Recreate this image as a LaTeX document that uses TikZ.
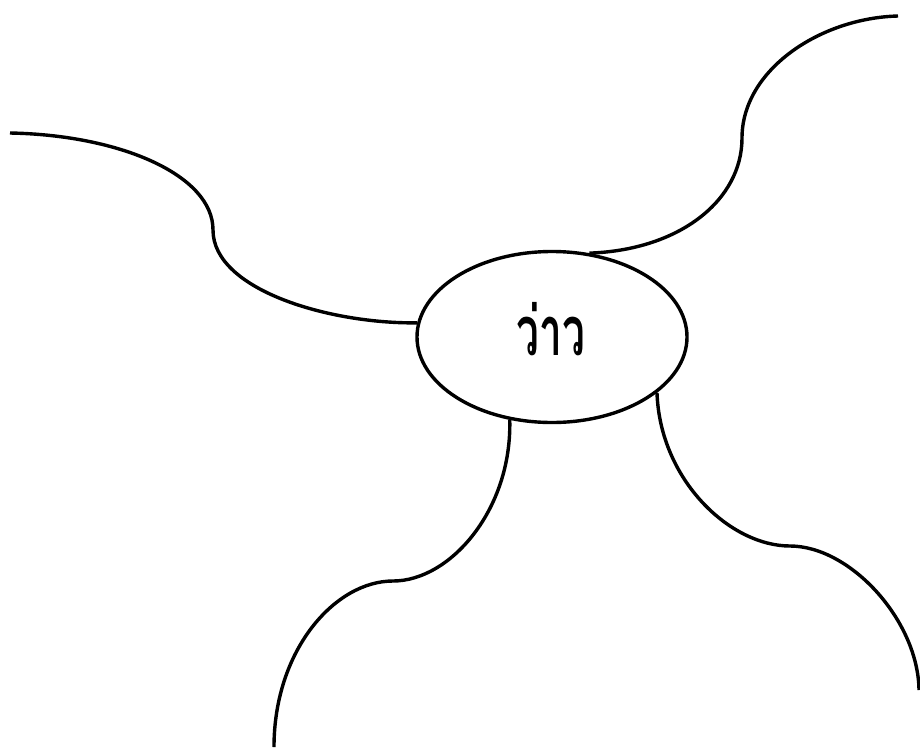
\documentclass[tikz,border=0pt]{standalone}
\usepackage{fontspec}
\newfontfamily\thaifont[Script=Thai]{Loma}
\usetikzlibrary{shapes.geometric}
\tikzset{
  kitebox/.style={draw=black, line width=3.4pt, ellipse, minimum width=270pt, minimum height=171pt, inner sep=0pt},
  kitetext/.style={inner sep=0pt, font=\thaifont\bfseries\fontsize{58}{62}\selectfont},
  branch/.style={draw=black, line width=3.4pt}
}
\begin{document}
\begin{tikzpicture}[x=1pt,y=-1pt]
\useasboundingbox (0,0) rectangle (920,747);
\node[kitebox] (kite) at (552,337) {};
\node[kitetext] (label) at (551,329) {\scalebox{0.7}[1.18]{ว่าว}};
\coordinate (e1) at (898,16);
\coordinate (m1) at (742,138);
\coordinate (e2) at (10,133);
\coordinate (m2) at (213,230);
\coordinate (e3) at (274,747);
\coordinate (m3) at (393,581);
\coordinate (e4) at (919,690);
\coordinate (m4) at (790,546);
\draw[branch] (kite.66) .. controls (680,250) and (742,200) .. (m1) .. controls (742,70) and (820,18) .. (e1);
\draw[branch] (e2) .. controls (120,135) and (213,175) .. (m2) .. controls (213,290) and (330,324) .. (kite.174.5);
\draw[branch] (kite.243.4) .. controls (512,510) and (450,581) .. (m3) .. controls (335,581) and (274,650) .. (e3);
\draw[branch] (kite.332.8) .. controls (660,480) and (730,546) .. (m4) .. controls (850,546) and (918,620) .. (e4);
\end{tikzpicture}
\end{document}
